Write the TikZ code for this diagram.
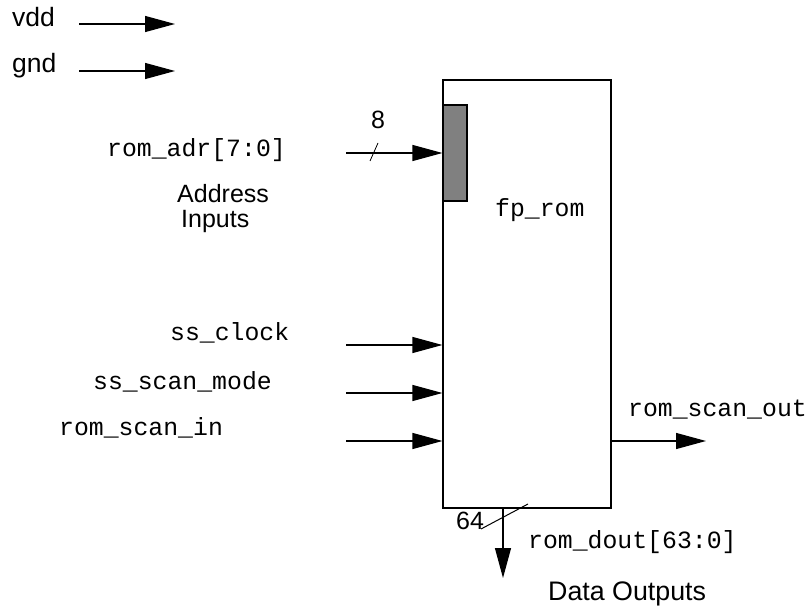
\documentclass[tikz,border=0pt]{standalone}
\usepackage{fontspec}
\setmainfont{Liberation Sans}
\setmonofont{Liberation Mono}
\usetikzlibrary{arrows.meta}
\tikzset{
  wire/.style={line width=1.2pt},
  sig/.style={wire,-{Triangle[length=30pt,width=16pt]}},
  lbl/.style={inner sep=0pt,anchor=base west,font=\fontsize{25}{28}\selectfont},
  pin/.style={inner sep=0pt,anchor=base west,font=\ttfamily\fontsize{24.8}{28}\selectfont},
}
\begin{document}
\begin{tikzpicture}[x=1pt,y=-1pt]
\useasboundingbox (0,0) rectangle (811,609);

% ROM block and address latch
\node[draw,wire,minimum width=168pt,minimum height=428pt,inner sep=0pt] (rom) at (527,294) {};
\node[draw,wire,fill=gray,minimum width=24pt,minimum height=96pt,inner sep=0pt] (adrbar) at (455,153) {};
\node[pin] (romname) at (495,217) {fp\_rom};

% supply pins
\node[lbl,font=\fontsize{26.5}{28}\selectfont] (vdd) at (12,27) {vdd};
\node[lbl,font=\fontsize{26.5}{28}\selectfont] (gnd) at (12,73) {gnd};
\coordinate (vdds) at (79,24);  \coordinate (vdde) at (175,24);
\coordinate (gnds) at (79,71);  \coordinate (gnde) at (175,71);
\draw[sig] (vdds) -- (vdde);
\draw[sig] (gnds) -- (gnde);

% address bus
\node[pin] (adr) at (107,157) {rom\_adr[7:0]};
\node[lbl] (adrw) at (371,129) {8};
\coordinate (adrs) at (346,153);
\draw[sig] (adrs) -- (adrs -| rom.west);
\coordinate (adrk1) at (370,161); \coordinate (adrk2) at (378,143);
\draw[line width=0.8pt] (adrk1) -- (adrk2);
\node[lbl] (addr1) at (177,203) {Address};
\node[lbl] (addr2) at (181,228) {Inputs};

% scan / clock inputs
\node[pin] (clk) at (170,341) {ss\_clock};
\node[pin] (smode) at (93,389) {ss\_scan\_mode};
\node[pin] (sin) at (59,435) {rom\_scan\_in};
\coordinate (clks) at (346,345);
\coordinate (smodes) at (346,393);
\coordinate (sins) at (346,441);
\draw[sig] (clks) -- (clks -| rom.west);
\draw[sig] (smodes) -- (smodes -| rom.west);
\draw[sig] (sins) -- (sins -| rom.west);

% scan output
\node[pin] (sout) at (628,416) {rom\_scan\_out};
\coordinate (soute) at (706,441);
\draw[sig] (soute -| rom.east) -- (soute);

% data output bus
\coordinate (douts) at (503,508);
\coordinate (doute) at (503,578);
\draw[sig] (rom.south -| douts) -- (doute);
\coordinate (doutk1) at (481,529); \coordinate (doutk2) at (528,504);
\draw[line width=1pt] (doutk1) -- (doutk2);
\node[lbl] (doutw) at (456,529) {64};
\node[pin] (dout) at (528,548) {rom\_dout[63:0]};
\node[lbl,font=\fontsize{26.8}{28}\selectfont] (dataout) at (548,600) {Data Outputs};
\end{tikzpicture}
\end{document}
